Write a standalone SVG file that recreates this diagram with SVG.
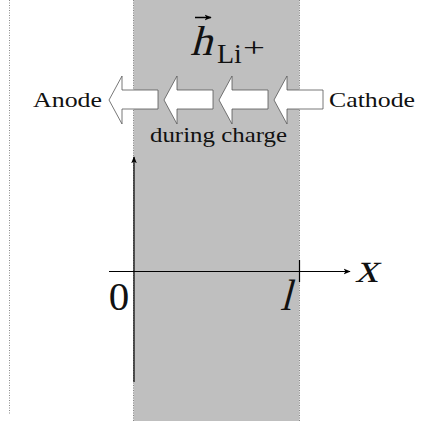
<svg xmlns="http://www.w3.org/2000/svg" width="432" height="423" viewBox="0 0 432 423">
<defs>
<style>
.t{font-family:"Liberation Serif","Times New Roman",serif;fill:#111}
.blk{fill:#fff;stroke:#555;stroke-width:0.8}
.ax{stroke:#000;stroke-width:1.2;fill:none}
.dot{stroke:#888;stroke-width:1;stroke-dasharray:1 1.5;fill:none}
</style>
<marker id="ah" viewBox="0 0 10 10" refX="9" refY="5" markerWidth="7" markerHeight="7" markerUnits="userSpaceOnUse" orient="auto">
<path d="M0,1 L10,5 L0,9 L2.5,5 Z" fill="#000"/>
</marker>
<path id="barrow" d="M0,100 L13,76 L13,90 L49,90 L49,109 L13,109 L13,124 Z"/>
</defs>
<rect width="432" height="423" fill="#fff"/>
<g id="region">
<rect x="133.5" y="0" width="166" height="421" fill="#bfbfbf"/>
<line class="dot" x1="133.5" y1="0" x2="133.5" y2="421"/>
<line class="dot" x1="299.5" y1="0" x2="299.5" y2="421"/>
</g>
<line class="dot" x1="9.5" y1="0" x2="9.5" y2="414"/>
<g id="flux-label">
<text class="t" transform="translate(190,55) skewX(-15)" font-size="42" textLength="22" lengthAdjust="spacingAndGlyphs">h</text>
<line x1="195" y1="17.5" x2="211" y2="17.5" stroke="#000" stroke-width="1.5" marker-end="url(#ah)"/>
<text class="t" x="217" y="63" font-size="28">Li</text>
<text class="t" x="243" y="57" font-size="28" textLength="22" lengthAdjust="spacingAndGlyphs">+</text>
</g>
<g id="anode"><text class="t" x="33" y="107" font-size="22" textLength="69" lengthAdjust="spacingAndGlyphs">Anode</text></g>
<g id="cathode"><text class="t" x="329" y="107" font-size="22" textLength="86" lengthAdjust="spacingAndGlyphs">Cathode</text></g>
<g id="during"><text class="t" x="150" y="142" font-size="22" textLength="137" lengthAdjust="spacingAndGlyphs">during charge</text></g>
<g id="connectors">
<use href="#barrow" class="blk" x="109"/>
<use href="#barrow" class="blk" x="164"/>
<use href="#barrow" class="blk" x="219"/>
<use href="#barrow" class="blk" x="274"/>
<line class="ax" x1="109" y1="271.5" x2="350" y2="271.5" marker-end="url(#ah)"/>
<line class="ax" x1="134" y1="382" x2="134" y2="157" stroke-width="1.6" marker-end="url(#ah)"/>
<line class="ax" x1="299.5" y1="260" x2="299.5" y2="282"/>
</g>
<g id="origin"><text class="t" x="119" y="310" font-size="41" text-anchor="middle">0</text></g>
<g id="length"><text class="t" transform="translate(280,310) skewX(-15)" font-size="44" textLength="11" lengthAdjust="spacingAndGlyphs">l</text></g>
<g id="xlabel"><text class="t" transform="translate(355,282) skewX(-15)" font-size="42" textLength="23" lengthAdjust="spacingAndGlyphs">x</text></g>
</svg>
